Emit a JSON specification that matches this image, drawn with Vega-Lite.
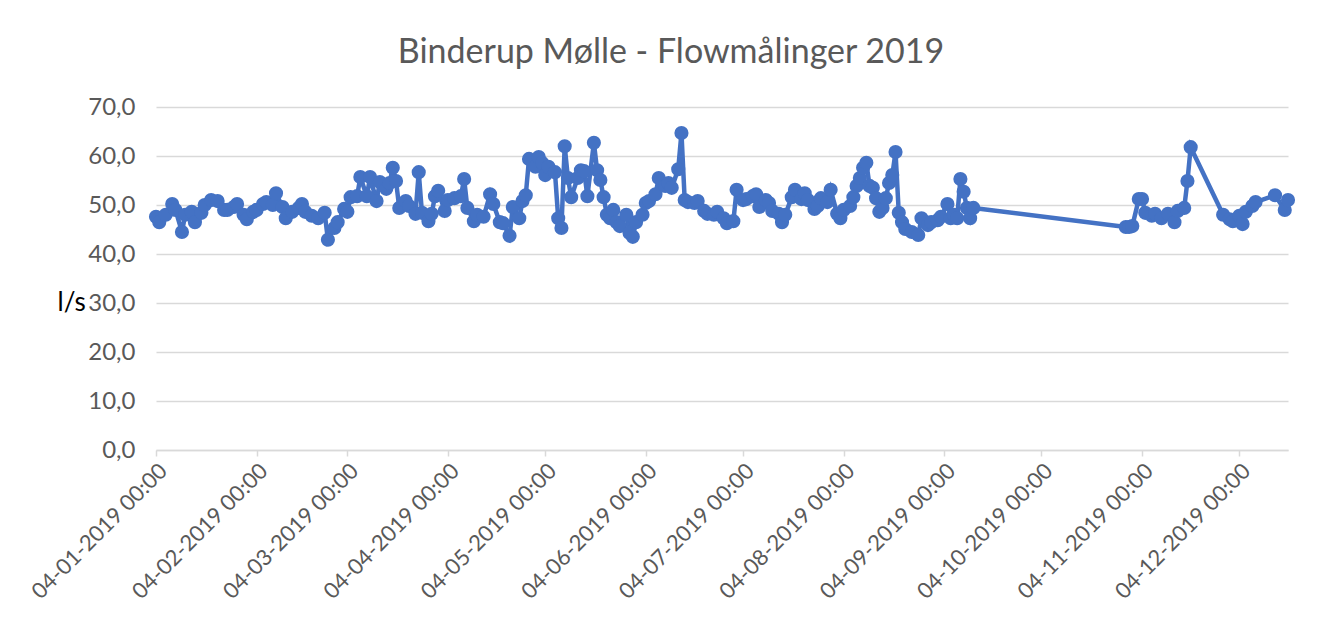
{
  "$schema": "https://vega.github.io/schema/vega-lite/v6.json",
  "width": 1132,
  "height": 343,
  "autosize": {"type": "none"},
  "padding": {"left": 156, "top": 107, "right": 55, "bottom": 169},
  "background": "white",
  "title": {"text": "Binderup Mølle - Flowmålinger 2019", "font": "Lato", "fontSize": 34, "fontWeight": "normal", "color": "#595959", "anchor": "middle", "offset": 25, "dx": -51},
  "data": {"values": [
    {"d": "2019-01-04T00:00", "v": 47.6}, {"d": "2019-01-05T00:00", "v": 46.5}, {"d": "2019-01-07T00:00", "v": 48.0},
    {"d": "2019-01-09T00:00", "v": 50.2}, {"d": "2019-01-10T00:00", "v": 49.0}, {"d": "2019-01-12T00:00", "v": 44.5},
    {"d": "2019-01-13T00:00", "v": 48.0}, {"d": "2019-01-15T00:00", "v": 48.6}, {"d": "2019-01-16T00:00", "v": 46.5},
    {"d": "2019-01-18T00:00", "v": 48.4}, {"d": "2019-01-19T00:00", "v": 50.0}, {"d": "2019-01-21T00:00", "v": 51.0},
    {"d": "2019-01-23T00:00", "v": 50.8}, {"d": "2019-01-25T00:00", "v": 49.0}, {"d": "2019-01-26T00:00", "v": 49.0},
    {"d": "2019-01-28T00:00", "v": 49.6}, {"d": "2019-01-29T00:00", "v": 50.2}, {"d": "2019-01-31T00:00", "v": 48.0},
    {"d": "2019-02-01T00:00", "v": 47.1}, {"d": "2019-02-03T00:00", "v": 48.6}, {"d": "2019-02-04T00:00", "v": 49.0},
    {"d": "2019-02-06T00:00", "v": 50.2}, {"d": "2019-02-07T00:00", "v": 50.6}, {"d": "2019-02-09T00:00", "v": 50.0},
    {"d": "2019-02-10T00:00", "v": 52.4}, {"d": "2019-02-12T00:00", "v": 49.6}, {"d": "2019-02-13T00:00", "v": 47.3},
    {"d": "2019-02-15T00:00", "v": 48.6}, {"d": "2019-02-17T00:00", "v": 49.4}, {"d": "2019-02-18T00:00", "v": 50.2},
    {"d": "2019-02-19T00:00", "v": 48.6}, {"d": "2019-02-21T00:00", "v": 47.8}, {"d": "2019-02-23T00:00", "v": 47.3},
    {"d": "2019-02-25T00:00", "v": 48.4}, {"d": "2019-02-26T00:00", "v": 42.9}, {"d": "2019-02-28T00:00", "v": 45.3},
    {"d": "2019-03-01T00:00", "v": 46.5}, {"d": "2019-03-03T00:00", "v": 49.2}, {"d": "2019-03-04T00:00", "v": 48.6},
    {"d": "2019-03-05T00:00", "v": 51.6}, {"d": "2019-03-07T00:00", "v": 51.8}, {"d": "2019-03-08T00:00", "v": 55.7},
    {"d": "2019-03-10T00:00", "v": 51.8}, {"d": "2019-03-11T00:00", "v": 55.7}, {"d": "2019-03-13T00:00", "v": 50.8},
    {"d": "2019-03-14T00:00", "v": 54.7}, {"d": "2019-03-16T00:00", "v": 53.3}, {"d": "2019-03-17T00:00", "v": 54.5},
    {"d": "2019-03-18T00:00", "v": 57.6}, {"d": "2019-03-19T00:00", "v": 54.9}, {"d": "2019-03-20T00:00", "v": 49.4},
    {"d": "2019-03-22T00:00", "v": 50.8}, {"d": "2019-03-23T00:00", "v": 49.8}, {"d": "2019-03-25T00:00", "v": 48.2},
    {"d": "2019-03-26T00:00", "v": 56.7}, {"d": "2019-03-27T00:00", "v": 48.4}, {"d": "2019-03-29T00:00", "v": 46.7},
    {"d": "2019-03-30T00:00", "v": 48.2}, {"d": "2019-03-31T00:00", "v": 51.8}, {"d": "2019-04-01T00:00", "v": 52.9},
    {"d": "2019-04-03T00:00", "v": 48.8}, {"d": "2019-04-04T00:00", "v": 51.0}, {"d": "2019-04-06T00:00", "v": 51.4},
    {"d": "2019-04-08T00:00", "v": 51.8}, {"d": "2019-04-09T00:00", "v": 55.3}, {"d": "2019-04-10T00:00", "v": 49.4},
    {"d": "2019-04-12T00:00", "v": 46.7}, {"d": "2019-04-13T00:00", "v": 48.0}, {"d": "2019-04-15T00:00", "v": 47.6},
    {"d": "2019-04-17T00:00", "v": 52.2}, {"d": "2019-04-18T00:00", "v": 50.2}, {"d": "2019-04-20T00:00", "v": 46.5},
    {"d": "2019-04-21T00:00", "v": 46.3}, {"d": "2019-04-23T00:00", "v": 43.7}, {"d": "2019-04-24T00:00", "v": 49.6},
    {"d": "2019-04-26T00:00", "v": 47.3}, {"d": "2019-04-27T00:00", "v": 50.8}, {"d": "2019-04-28T00:00", "v": 52.0},
    {"d": "2019-04-29T00:00", "v": 59.4}, {"d": "2019-05-01T00:00", "v": 57.8}, {"d": "2019-05-02T00:00", "v": 59.8},
    {"d": "2019-05-03T00:00", "v": 58.6}, {"d": "2019-05-04T00:00", "v": 56.1}, {"d": "2019-05-05T00:00", "v": 57.8},
    {"d": "2019-05-07T00:00", "v": 56.7}, {"d": "2019-05-08T00:00", "v": 47.3}, {"d": "2019-05-09T00:00", "v": 45.3},
    {"d": "2019-05-10T00:00", "v": 62.0}, {"d": "2019-05-11T00:00", "v": 55.5}, {"d": "2019-05-12T00:00", "v": 51.6},
    {"d": "2019-05-14T00:00", "v": 55.5}, {"d": "2019-05-15T00:00", "v": 57.1}, {"d": "2019-05-16T00:00", "v": 56.9},
    {"d": "2019-05-17T00:00", "v": 51.8}, {"d": "2019-05-19T00:00", "v": 62.7}, {"d": "2019-05-20T00:00", "v": 57.1},
    {"d": "2019-05-21T00:00", "v": 55.1}, {"d": "2019-05-22T00:00", "v": 51.6}, {"d": "2019-05-23T00:00", "v": 48.0},
    {"d": "2019-05-24T00:00", "v": 47.3}, {"d": "2019-05-25T00:00", "v": 49.0}, {"d": "2019-05-26T00:00", "v": 46.5},
    {"d": "2019-05-27T00:00", "v": 45.7}, {"d": "2019-05-29T00:00", "v": 48.0}, {"d": "2019-05-30T00:00", "v": 44.3},
    {"d": "2019-05-31T00:00", "v": 43.5}, {"d": "2019-06-01T00:00", "v": 46.5}, {"d": "2019-06-03T00:00", "v": 48.0},
    {"d": "2019-06-04T00:00", "v": 50.4}, {"d": "2019-06-05T00:00", "v": 50.8}, {"d": "2019-06-07T00:00", "v": 52.2},
    {"d": "2019-06-08T00:00", "v": 55.5}, {"d": "2019-06-10T00:00", "v": 53.9}, {"d": "2019-06-11T00:00", "v": 54.5},
    {"d": "2019-06-12T00:00", "v": 53.5}, {"d": "2019-06-14T00:00", "v": 57.3}, {"d": "2019-06-15T00:00", "v": 64.7},
    {"d": "2019-06-16T00:00", "v": 51.0}, {"d": "2019-06-17T00:00", "v": 50.6}, {"d": "2019-06-19T00:00", "v": 50.4},
    {"d": "2019-06-20T00:00", "v": 50.8}, {"d": "2019-06-22T00:00", "v": 48.8}, {"d": "2019-06-23T00:00", "v": 48.2},
    {"d": "2019-06-25T00:00", "v": 48.0}, {"d": "2019-06-26T00:00", "v": 48.6}, {"d": "2019-06-28T00:00", "v": 47.3},
    {"d": "2019-06-29T00:00", "v": 46.3}, {"d": "2019-07-01T00:00", "v": 46.7}, {"d": "2019-07-02T00:00", "v": 53.1},
    {"d": "2019-07-04T00:00", "v": 51.0}, {"d": "2019-07-05T00:00", "v": 51.2}, {"d": "2019-07-07T00:00", "v": 51.8},
    {"d": "2019-07-08T00:00", "v": 52.2}, {"d": "2019-07-09T00:00", "v": 49.6}, {"d": "2019-07-11T00:00", "v": 51.0},
    {"d": "2019-07-12T00:00", "v": 50.4}, {"d": "2019-07-13T00:00", "v": 48.8}, {"d": "2019-07-15T00:00", "v": 48.2},
    {"d": "2019-07-16T00:00", "v": 46.5}, {"d": "2019-07-17T00:00", "v": 48.0}, {"d": "2019-07-19T00:00", "v": 51.6},
    {"d": "2019-07-20T00:00", "v": 53.1}, {"d": "2019-07-22T00:00", "v": 51.2}, {"d": "2019-07-23T00:00", "v": 52.4},
    {"d": "2019-07-24T00:00", "v": 51.0}, {"d": "2019-07-26T00:00", "v": 49.2}, {"d": "2019-07-27T00:00", "v": 49.8},
    {"d": "2019-07-28T00:00", "v": 51.4}, {"d": "2019-07-30T00:00", "v": 50.6}, {"d": "2019-07-31T00:00", "v": 53.1},
    {"d": "2019-08-02T00:00", "v": 48.2}, {"d": "2019-08-03T00:00", "v": 47.3}, {"d": "2019-08-04T00:00", "v": 49.0},
    {"d": "2019-08-06T00:00", "v": 49.8}, {"d": "2019-08-07T00:00", "v": 51.6}, {"d": "2019-08-08T00:00", "v": 53.9},
    {"d": "2019-08-09T00:00", "v": 55.5}, {"d": "2019-08-10T00:00", "v": 57.6}, {"d": "2019-08-11T00:00", "v": 58.6},
    {"d": "2019-08-12T00:00", "v": 53.9}, {"d": "2019-08-13T00:00", "v": 53.5}, {"d": "2019-08-14T00:00", "v": 51.4},
    {"d": "2019-08-15T00:00", "v": 48.6}, {"d": "2019-08-16T00:00", "v": 49.4}, {"d": "2019-08-17T00:00", "v": 51.4},
    {"d": "2019-08-18T00:00", "v": 54.5}, {"d": "2019-08-19T00:00", "v": 56.1}, {"d": "2019-08-20T00:00", "v": 60.8},
    {"d": "2019-08-21T00:00", "v": 48.4}, {"d": "2019-08-22T00:00", "v": 46.5}, {"d": "2019-08-23T00:00", "v": 45.1},
    {"d": "2019-08-25T00:00", "v": 44.5}, {"d": "2019-08-27T00:00", "v": 43.9}, {"d": "2019-08-28T00:00", "v": 47.3},
    {"d": "2019-08-30T00:00", "v": 45.9}, {"d": "2019-08-31T00:00", "v": 46.5}, {"d": "2019-09-02T00:00", "v": 46.9},
    {"d": "2019-09-03T00:00", "v": 47.6}, {"d": "2019-09-05T00:00", "v": 50.2}, {"d": "2019-09-06T00:00", "v": 47.3},
    {"d": "2019-09-07T00:00", "v": 48.0}, {"d": "2019-09-08T00:00", "v": 47.3}, {"d": "2019-09-09T00:00", "v": 55.3},
    {"d": "2019-09-10T00:00", "v": 52.7}, {"d": "2019-09-11T00:00", "v": 49.4}, {"d": "2019-09-12T00:00", "v": 47.3},
    {"d": "2019-09-13T00:00", "v": 49.4}, {"d": "2019-10-30T00:00", "v": 45.5}, {"d": "2019-10-31T00:00", "v": 45.5},
    {"d": "2019-11-01T00:00", "v": 45.7}, {"d": "2019-11-03T00:00", "v": 51.2}, {"d": "2019-11-04T00:00", "v": 51.2},
    {"d": "2019-11-05T00:00", "v": 48.4}, {"d": "2019-11-07T00:00", "v": 47.8}, {"d": "2019-11-08T00:00", "v": 48.2},
    {"d": "2019-11-10T00:00", "v": 47.3}, {"d": "2019-11-12T00:00", "v": 48.2}, {"d": "2019-11-14T00:00", "v": 46.5},
    {"d": "2019-11-15T00:00", "v": 48.8}, {"d": "2019-11-17T00:00", "v": 49.4}, {"d": "2019-11-18T00:00", "v": 54.9},
    {"d": "2019-11-19T00:00", "v": 61.8}, {"d": "2019-11-29T00:00", "v": 48.0}, {"d": "2019-12-01T00:00", "v": 47.1},
    {"d": "2019-12-02T00:00", "v": 46.7}, {"d": "2019-12-04T00:00", "v": 47.8}, {"d": "2019-12-05T00:00", "v": 46.1},
    {"d": "2019-12-06T00:00", "v": 48.6}, {"d": "2019-12-08T00:00", "v": 49.8}, {"d": "2019-12-09T00:00", "v": 50.6},
    {"d": "2019-12-15T00:00", "v": 52.0}, {"d": "2019-12-18T00:00", "v": 49.0}, {"d": "2019-12-19T00:00", "v": 51.0}
  ]},
  "mark": {"type": "line", "color": "#4472C4", "strokeWidth": 4.5, "point": {"filled": true, "size": 200, "color": "#4472C4", "opacity": 1}},
  "encoding": {
    "x": {
      "field": "d", "type": "temporal",
      "scale": {"domain": [{"year": 2019, "month": 1, "date": 4}, {"year": 2019, "month": 12, "date": 19}]},
      "axis": {
        "title": null,
        "values": [
          {"year": 2019, "month": 1, "date": 4}, {"year": 2019, "month": 2, "date": 4}, {"year": 2019, "month": 3, "date": 4},
          {"year": 2019, "month": 4, "date": 4}, {"year": 2019, "month": 5, "date": 4}, {"year": 2019, "month": 6, "date": 4},
          {"year": 2019, "month": 7, "date": 4}, {"year": 2019, "month": 8, "date": 4}, {"year": 2019, "month": 9, "date": 4},
          {"year": 2019, "month": 10, "date": 4}, {"year": 2019, "month": 11, "date": 4}, {"year": 2019, "month": 12, "date": 4}
        ],
        "format": "%d-%m-%Y %H:%M",
        "labelAngle": -45,
        "labelFont": "Lato",
        "labelFontSize": 22,
        "labelColor": "#595959",
        "labelPadding": 4,
        "labelLimit": 0,
        "labelOverlap": false,
        "labelFlush": false,
        "grid": false,
        "domainColor": "#d9d9d9",
        "domainWidth": 1.5,
        "tickColor": "#d9d9d9",
        "tickWidth": 1.5,
        "tickSize": 6
      }
    },
    "y": {
      "field": "v", "type": "quantitative",
      "scale": {"domain": [0, 70], "nice": false, "zero": true},
      "axis": {
        "values": [0, 10, 20, 30, 40, 50, 60, 70],
        "format": ".1f",
        "title": "l/s",
        "titleAngle": 0,
        "titleFont": "Lato",
        "titleFontSize": 26,
        "titleFontWeight": "normal",
        "titleColor": "#000000",
        "titleAlign": "left",
        "titleBaseline": "middle",
        "titleX": -99,
        "titleY": 195,
        "labelFont": "Lato",
        "labelFontSize": 24,
        "labelColor": "#595959",
        "labelPadding": 21,
        "ticks": false,
        "domain": false,
        "gridColor": "#d9d9d9",
        "gridWidth": 1.5
      }
    }
  },
  "config": {
    "locale": {"number": {"decimal": ",", "thousands": ".", "grouping": [3], "currency": ["", " kr."]}},
    "view": {"stroke": null}
  }
}
